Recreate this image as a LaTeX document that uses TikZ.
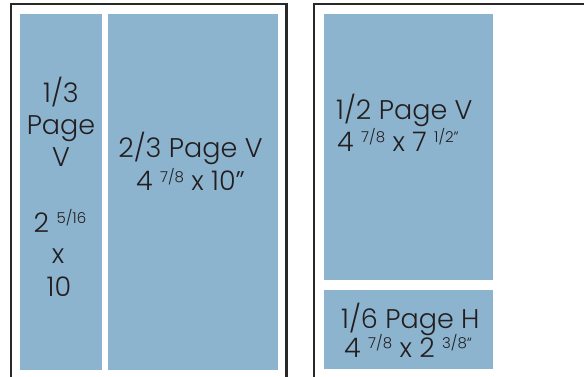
\documentclass[tikz,border=0pt]{standalone}
\usepackage{fontspec}
\setmainfont{Poppins Light}
\definecolor{adblue}{RGB}{141,180,207}
\definecolor{ink}{RGB}{35,31,32}
\definecolor{frame}{RGB}{40,40,40}
\newcommand{\sfrac}[1]{\raisebox{9pt}{\fontsize{15}{15}\selectfont #1}}
\tikzset{
  adbox/.style={fill=adblue, draw=none, inner sep=0pt, outer sep=0pt},
  pageframe/.style={draw=frame, line width=2.2pt},
  lbl/.style={text=ink, inner sep=0pt, font=\fontsize{27}{32}\selectfont}
}
\begin{document}
\begin{tikzpicture}[x=1pt,y=-1pt]
\useasboundingbox (0,0) rectangle (584,377);
\fill[white] (0,0) rectangle (584,377);
% page frames
\draw[pageframe] (11,377) -- (11,4) -- (286.5,4) -- (286.5,377);
\draw[pageframe] (314,377) -- (314,4) -- (584,4);
% ad boxes
\node[adbox, minimum width=82pt, minimum height=356pt, anchor=north west] (third) at (20,14) {};
\node[adbox, minimum width=170pt, minimum height=356pt, anchor=north west] (twothird) at (108,14) {};
\node[adbox, minimum width=169pt, minimum height=266pt, anchor=north west] (half) at (324,14) {};
\node[adbox, minimum width=169pt, minimum height=79pt, anchor=north west] (sixth) at (324,290) {};
% 1/3 labels
\node[lbl, anchor=base] (t1) at (61,103) {1/3};
\node[lbl, anchor=base] (t2) at (61,135) {Page};
\node[lbl, anchor=base] (t3) at (61,167) {V};
\node[lbl, anchor=base] (t4) at (60,232) {2 \sfrac{5/16}};
\node[lbl, anchor=base] (t5) at (58,263) {x};
\node[lbl, anchor=base] (t6) at (59,296) {10};
% 2/3 labels
\node[lbl, anchor=base] (u1) at (190.5,158) {2/3 Page V};
\node[lbl, anchor=base] (u2) at (190.5,191) {4 \sfrac{7/8} x 10”};
% 1/2 labels
\node[lbl, anchor=base west] (v1) at (336,120) {1/2 Page V};
\node[lbl, anchor=base west] (v2) at (337,152) {4 \sfrac{7/8} x 7 \sfrac{1/2”}};
% 1/6 labels
\node[lbl, anchor=base west] (w1) at (341,328) {1/6 Page H};
\node[lbl, anchor=base west] (w2) at (344,357) {4 \sfrac{7/8} x 2 \sfrac{3/8“}};
\end{tikzpicture}
\end{document}
